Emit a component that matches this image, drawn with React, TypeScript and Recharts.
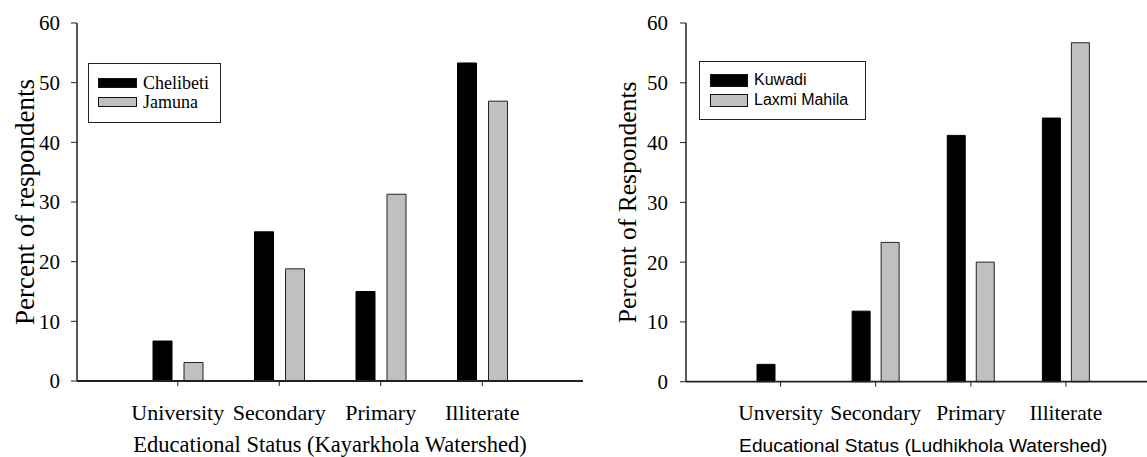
import { BarChart, Bar, XAxis, YAxis, Legend, Label } from 'recharts';

const SERIF = '"Liberation Serif", "Times New Roman", serif';
const SANS = '"Liberation Sans", Arial, sans-serif';

const kayarCategories = ['University', 'Secondary', 'Primary', 'Illiterate'];
const chelibeti = [6.7, 25, 15, 53.3];
const jamuna = [3.1, 18.8, 31.3, 46.9];

const ludhiCategories = ['Unversity', 'Secondary', 'Primary', 'Illiterate'];
const kuwadi = [2.9, 11.8, 41.2, 44.1];
const laxmiMahila = [0, 23.3, 20, 56.7];

const yTicks = [0, 10, 20, 30, 40, 50, 60];

const kayarData = kayarCategories.map((cat, i) => ({
  cat,
  chelibeti: chelibeti[i],
  jamuna: jamuna[i],
}));

const ludhiData = ludhiCategories.map((cat, i) => ({
  cat,
  kuwadi: kuwadi[i],
  laxmi: laxmiMahila[i],
}));

const AXIS = '#222';
const GRAY = '#c0c0c0';

function makeLegend(opts: {
  width: number;
  height: number;
  padLeft: number;
  rowTops: number[];
  swatchW: number;
  swatchH: number;
  textGap: number;
  font: string;
  fontSize: number;
}) {
  return (props: any) => {
    const payload = props.payload || [];
    return (
      <div
        style={{
          position: 'relative',
          width: opts.width,
          height: opts.height,
          border: `1px solid ${AXIS}`,
          boxSizing: 'border-box',
          background: '#fff',
        }}
      >
        {payload.map((entry: any, i: number) => (
          <div
            key={entry.value}
            style={{
              position: 'absolute',
              left: opts.padLeft,
              top: opts.rowTops[i],
              height: opts.swatchH,
              display: 'flex',
              alignItems: 'center',
              whiteSpace: 'nowrap',
            }}
          >
            <div
              style={{
                width: opts.swatchW,
                height: opts.swatchH,
                background: entry.color,
                border: '1px solid #111',
                boxSizing: 'border-box',
              }}
            />
            <span
              style={{
                marginLeft: opts.textGap,
                fontFamily: opts.font,
                fontSize: opts.fontSize,
                lineHeight: 1,
                color: '#000',
              }}
            >
              {entry.value}
            </span>
          </div>
        ))}
      </div>
    );
  };
}

function KayarkholaChart() {
  return (
    <BarChart
      width={600}
      height={457}
      data={kayarData}
      margin={{ top: 23, right: 17, bottom: 0, left: 0 }}
      barSize={19}
      barGap={12}
    >
      <XAxis
        dataKey="cat"
        interval={0}
        padding={{ left: 50, right: 50 }}
        height={76}
        tickSize={5}
        tickMargin={18}
        tick={{ fontSize: 22, fill: '#000', fontFamily: SERIF }}
        axisLine={{ stroke: AXIS, strokeWidth: 1.8 }}
        tickLine={{ stroke: AXIS }}
      >
        <Label
          value="Educational Status (Kayarkhola Watershed)"
          position="insideBottom"
          offset={5}
          style={{ fontSize: 22.5, fill: '#000', fontFamily: SERIF }}
        />
      </XAxis>
      <XAxis xAxisId="top" dataKey="cat" orientation="top" height={0} tick={false} tickLine={false} axisLine={{ stroke: AXIS }} />
      <YAxis
        domain={[0, 60]}
        ticks={yTicks}
        width={77}
        tickSize={6}
        tickMargin={11}
        tick={{ fontSize: 21, fill: '#000', fontFamily: SERIF }}
        axisLine={{ stroke: AXIS, strokeWidth: 1.5 }}
        tickLine={{ stroke: AXIS }}
      >
        <Label
          value="Percent of respondents"
          angle={-90}
          position="insideLeft"
          offset={24}
          style={{ fontSize: 27, fill: '#000', fontFamily: SERIF, textAnchor: 'middle' }}
        />
      </YAxis>
      <YAxis yAxisId="frame" orientation="right" domain={[0, 60]} width={0} tick={false} tickLine={false} axisLine={{ stroke: '#555' }} />
      <Legend
        layout="vertical"
        align="center"
        verticalAlign="middle"
        wrapperStyle={{ left: 88, top: 63 }}
        content={makeLegend({
          width: 133,
          height: 60,
          padLeft: 9,
          rowTops: [13.5, 32.5],
          swatchW: 39,
          swatchH: 10,
          textGap: 6,
          font: SERIF,
          fontSize: 18,
        })}
      />
      <Bar dataKey="chelibeti" name="Chelibeti" fill="#000" stroke="#000" isAnimationActive={false} />
      <Bar dataKey="jamuna" name="Jamuna" fill={GRAY} stroke="#222" isAnimationActive={false} />
    </BarChart>
  );
}

function LudhikholaChart() {
  return (
    <BarChart
      width={600}
      height={457}
      data={ludhiData}
      margin={{ top: 23, right: 39.5, bottom: 0, left: 0 }}
      barSize={18}
      barGap={11}
    >
      <XAxis
        dataKey="cat"
        interval={0}
        padding={{ left: 47, right: 47 }}
        height={75.3}
        tickSize={5}
        tickMargin={18}
        tick={{ fontSize: 21.5, fill: '#000', fontFamily: SERIF }}
        axisLine={{ stroke: AXIS, strokeWidth: 1.8 }}
        tickLine={{ stroke: AXIS }}
      >
        <Label
          value="Educational Status (Ludhikhola Watershed)"
          position="insideBottom"
          offset={5}
          style={{ fontSize: 19.2, fill: '#000', fontFamily: SANS }}
        />
      </XAxis>
      <XAxis xAxisId="top" dataKey="cat" orientation="top" height={0} tick={false} tickLine={false} axisLine={{ stroke: AXIS }} />
      <YAxis
        domain={[0, 60]}
        ticks={yTicks}
        width={86}
        tickSize={6}
        tickMargin={12}
        tick={{ fontSize: 21, fill: '#000', fontFamily: SERIF }}
        axisLine={{ stroke: AXIS, strokeWidth: 1.5 }}
        tickLine={{ stroke: AXIS }}
      >
        <Label
          value="Percent of Respondents"
          angle={-90}
          position="insideLeft"
          offset={27}
          style={{ fontSize: 25.6, fill: '#000', fontFamily: SERIF, textAnchor: 'middle' }}
        />
      </YAxis>
      <YAxis yAxisId="frame" orientation="right" domain={[0, 60]} width={0} tick={false} tickLine={false} axisLine={{ stroke: '#555' }} />
      <Legend
        layout="vertical"
        align="center"
        verticalAlign="middle"
        wrapperStyle={{ left: 99, top: 61 }}
        content={makeLegend({
          width: 167,
          height: 59,
          padLeft: 10,
          rowTops: [11.5, 31.5],
          swatchW: 38,
          swatchH: 13,
          textGap: 6,
          font: SANS,
          fontSize: 16,
        })}
      />
      <Bar dataKey="kuwadi" name="Kuwadi" fill="#000" stroke="#000" isAnimationActive={false} />
      <Bar dataKey="laxmi" name="Laxmi Mahila" fill={GRAY} stroke="#222" isAnimationActive={false} />
    </BarChart>
  );
}

export default function App() {
  return (
    <div
      style={{
        position: 'absolute',
        left: 0,
        top: 0,
        width: 1147,
        height: 457,
        overflow: 'hidden',
        background: '#fff',
        fontFamily: SERIF,
      }}
    >
      <div style={{ position: 'absolute', left: 0, top: 0 }}>
        <KayarkholaChart />
      </div>
      <div style={{ position: 'absolute', left: 600, top: 0 }}>
        <LudhikholaChart />
      </div>
    </div>
  );
}
